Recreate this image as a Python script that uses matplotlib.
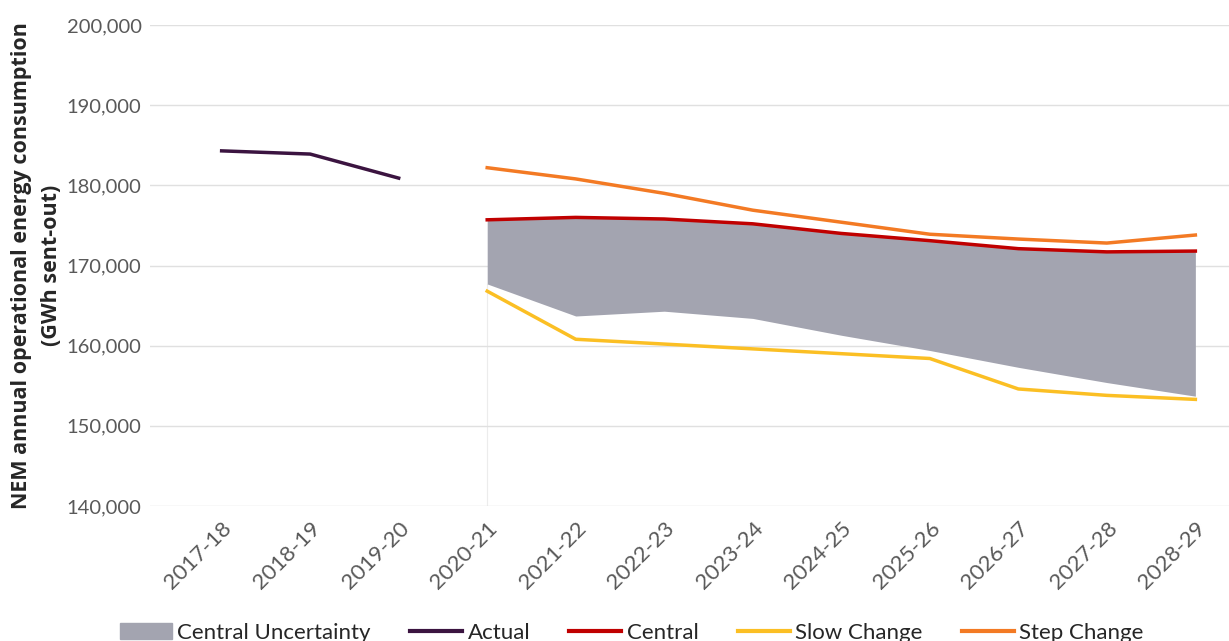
import matplotlib
matplotlib.use('Agg')
import matplotlib.pyplot as plt
from matplotlib.ticker import FuncFormatter
from matplotlib.patches import Patch
from matplotlib.lines import Line2D

years = ['2017-18', '2018-19', '2019-20', '2020-21', '2021-22', '2022-23',
         '2023-24', '2024-25', '2025-26', '2026-27', '2027-28', '2028-29']

actual = [184300, 183900, 180900]
central = [175700, 176000, 175800, 175200, 174000, 173100, 172100, 171700, 171800]
slow_change = [166800, 160800, 160200, 159600, 159000, 158400, 154600, 153800, 153300]
step_change = [182200, 180800, 179000, 176900, 175400, 173900, 173300, 172800, 173800]
uncertainty_low = [167700, 163700, 164300, 163400, 161300, 159400, 157300, 155400, 153700]

plt.rcParams['font.family'] = ['Lato', 'DejaVu Sans']

fig = plt.figure(figsize=(12.29, 6.41), dpi=100)
ax = fig.add_axes([0.122, 0.2106, 0.878, 0.7504])

x_act = list(range(3))
x_fc = list(range(3, 12))

ax.fill_between(x_fc, uncertainty_low, central, color='#a3a4b0', linewidth=0, zorder=1)
ax.plot([3, 3], [140000, uncertainty_low[0]], color='#ececec', linewidth=0.8, zorder=0.5)
ax.plot(x_act, actual, color='#3b1440', linewidth=2.5, zorder=3)
ax.plot(x_fc, central, color='#c00000', linewidth=2.5, zorder=3)
ax.plot(x_fc, slow_change, color='#fbbf24', linewidth=2.5, zorder=3)
ax.plot(x_fc, step_change, color='#f37a24', linewidth=2.5, zorder=3)

ax.set_ylim(140000, 200000)
ax.set_xlim(-0.81, 11.38)
ax.set_yticks(range(140000, 200001, 10000))
ax.yaxis.set_major_formatter(FuncFormatter(lambda v, p: f'{int(v):,}'))
ax.set_xticks(range(len(years)))
ax.set_xticklabels(years, rotation=45, ha='right', rotation_mode='anchor')
ax.grid(axis='y', color='#e0e0e0', linewidth=1)
ax.set_axisbelow(True)
for s in ax.spines.values():
    s.set_visible(False)
ax.tick_params(axis='y', length=0, labelsize=14.5, colors='#595959', pad=6)
ax.tick_params(axis='x', length=0, labelsize=16, colors='#595959', pad=9)

ax.set_ylabel('NEM annual operational energy consumption\n(GWh sent-out)',
              fontsize=15.5, fontweight='bold', color='#262626', labelpad=3,
              linespacing=1.6, family=['Open Sans', 'DejaVu Sans'])

handles = [Patch(color='#a3a4b0', label='Central Uncertainty'),
           Line2D([], [], color='#3b1440', linewidth=3, label='Actual'),
           Line2D([], [], color='#c00000', linewidth=3, label='Central'),
           Line2D([], [], color='#fbbf24', linewidth=3, label='Slow Change'),
           Line2D([], [], color='#f37a24', linewidth=3, label='Step Change')]
leg = fig.legend(handles=handles, loc='center', bbox_to_anchor=(0.514, 0.013), ncol=5,
                 frameon=False, fontsize=16, handlelength=2.35, handletextpad=0.25,
                 columnspacing=1.75)
for t in leg.get_texts():
    t.set_color('#262626')

fig.savefig('out.png', dpi=100)
